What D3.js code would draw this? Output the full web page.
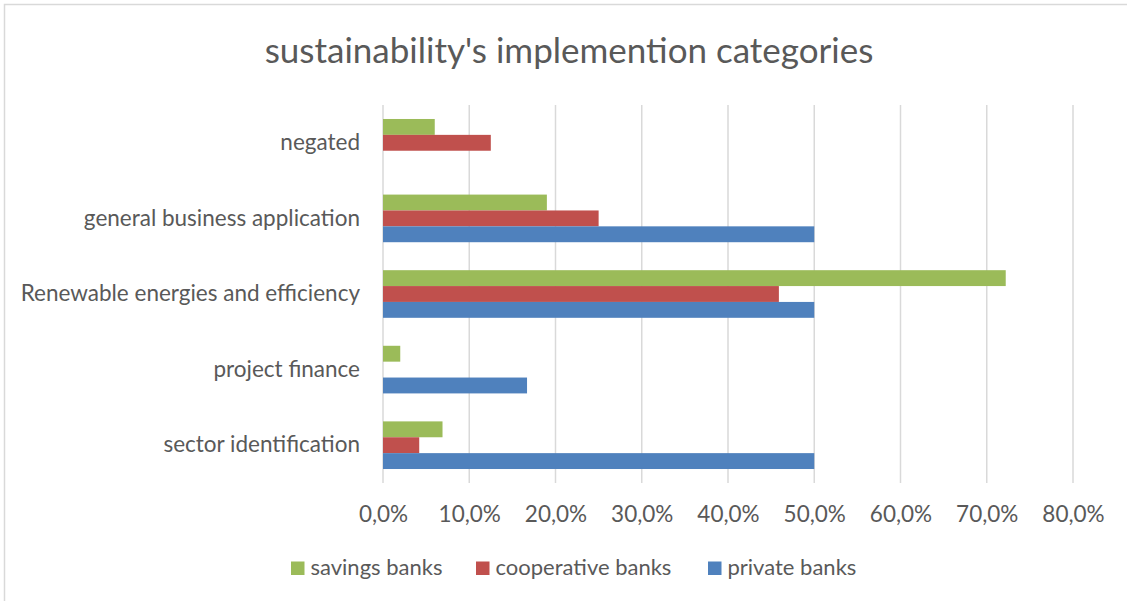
<!DOCTYPE html>
<html>
<head>
<meta charset="utf-8">
<script src="https://cdn.jsdelivr.net/npm/d3@7"></script>
<style>
  html, body { margin: 0; padding: 0; background: #ffffff; }
  svg { display: block; font-family: Lato, "Open Sans", sans-serif; }
</style>
</head>
<body>
<svg id="chart" width="1127" height="601"></svg>
<script>
// Categories, top to bottom
const categories = [
  "negated",
  "general business application",
  "Renewable energies and efficiency",
  "project finance",
  "sector identification"
];

// Series order within each group (top to bottom) and in the legend
const seriesNames = ["savings banks", "cooperative banks", "private banks"];
const seriesColors = ["#9BBB59", "#C0504D", "#4F81BD"];

// Shares per category, in the category order above
const savingsBanks     = [0.060, 0.190, 0.722, 0.020, 0.069];
const cooperativeBanks = [0.125, 0.250, 0.459, 0.000, 0.042];
const privateBanks     = [0.000, 0.500, 0.500, 0.167, 0.500];

const xTicks = [0, 0.1, 0.2, 0.3, 0.4, 0.5, 0.6, 0.7, 0.8];

const seriesValues = [savingsBanks, cooperativeBanks, privateBanks];
const rows = categories.map((c, i) => ({
  category: c,
  values: seriesNames.map((s, k) => ({ series: s, color: seriesColors[k], value: seriesValues[k][i] }))
}));

const svg = d3.select("#chart");
const textColor = "#595959";

// chart frame
svg.append("rect")
  .attr("x", 4.5).attr("y", 4.5)
  .attr("width", 1130).attr("height", 610)
  .attr("fill", "none").attr("stroke", "#d9d9d9").attr("stroke-width", 1.5);

const plot = { left: 383, right: 1073, top: 105, bottom: 483 };

const x = d3.scaleLinear().domain([0, 0.8]).range([plot.left, plot.right]);
const y = d3.scaleBand().domain(categories).range([plot.top, plot.bottom])
  .paddingInner(0.37).paddingOuter(0.185);
const ySub = d3.scaleBand().domain(seriesNames).range([0, y.bandwidth()]);

const locale = d3.formatLocale({ decimal: ",", thousands: ".", grouping: [3], currency: ["", " €"] });
const pct = locale.format(".1%");

// vertical gridlines
svg.append("g").selectAll("line").data(xTicks).join("line")
  .attr("x1", d => x(d)).attr("x2", d => x(d))
  .attr("y1", plot.top).attr("y2", plot.bottom)
  .attr("stroke", "#d9d9d9").attr("stroke-width", 1.5);

// bars
const groups = svg.append("g").selectAll("g").data(rows).join("g")
  .attr("transform", d => `translate(0,${y(d.category)})`);
groups.selectAll("rect").data(d => d.values.filter(v => v.value > 0)).join("rect")
  .attr("x", x(0))
  .attr("y", d => ySub(d.series))
  .attr("width", d => x(d.value) - x(0))
  .attr("height", ySub.bandwidth())
  .attr("fill", d => d.color);

// x axis labels
const xAxis = svg.append("g")
  .attr("transform", `translate(0,${plot.bottom})`)
  .call(d3.axisBottom(x).tickValues(xTicks).tickFormat(pct).tickSize(0).tickPadding(23));
xAxis.select(".domain").remove();
xAxis.selectAll("text").attr("fill", textColor).attr("font-size", 22.5).attr("font-family", "Lato");

// category labels
const yAxis = svg.append("g")
  .attr("transform", `translate(${plot.left},0)`)
  .call(d3.axisLeft(y).tickSize(0).tickPadding(23));
yAxis.select(".domain").remove();
yAxis.selectAll("text").attr("fill", textColor).attr("font-size", 22.5).attr("font-family", "Lato");

// title
svg.append("text")
  .attr("x", 569).attr("y", 63)
  .attr("text-anchor", "middle")
  .attr("fill", textColor)
  .attr("font-size", 35)
  .text("sustainability's implemention categories");

// legend
const legendX = [291, 476, 708];
const legend = svg.append("g").selectAll("g").data(seriesNames).join("g")
  .attr("transform", (d, i) => `translate(${legendX[i]},561.5)`);
legend.append("rect").attr("width", 13.5).attr("height", 13.5)
  .attr("fill", (d, i) => seriesColors[i]);
legend.append("text").attr("x", 19.5).attr("y", 13.5)
  .attr("fill", textColor).attr("font-size", 22)
  .text(d => d);
</script>
</body>
</html>
